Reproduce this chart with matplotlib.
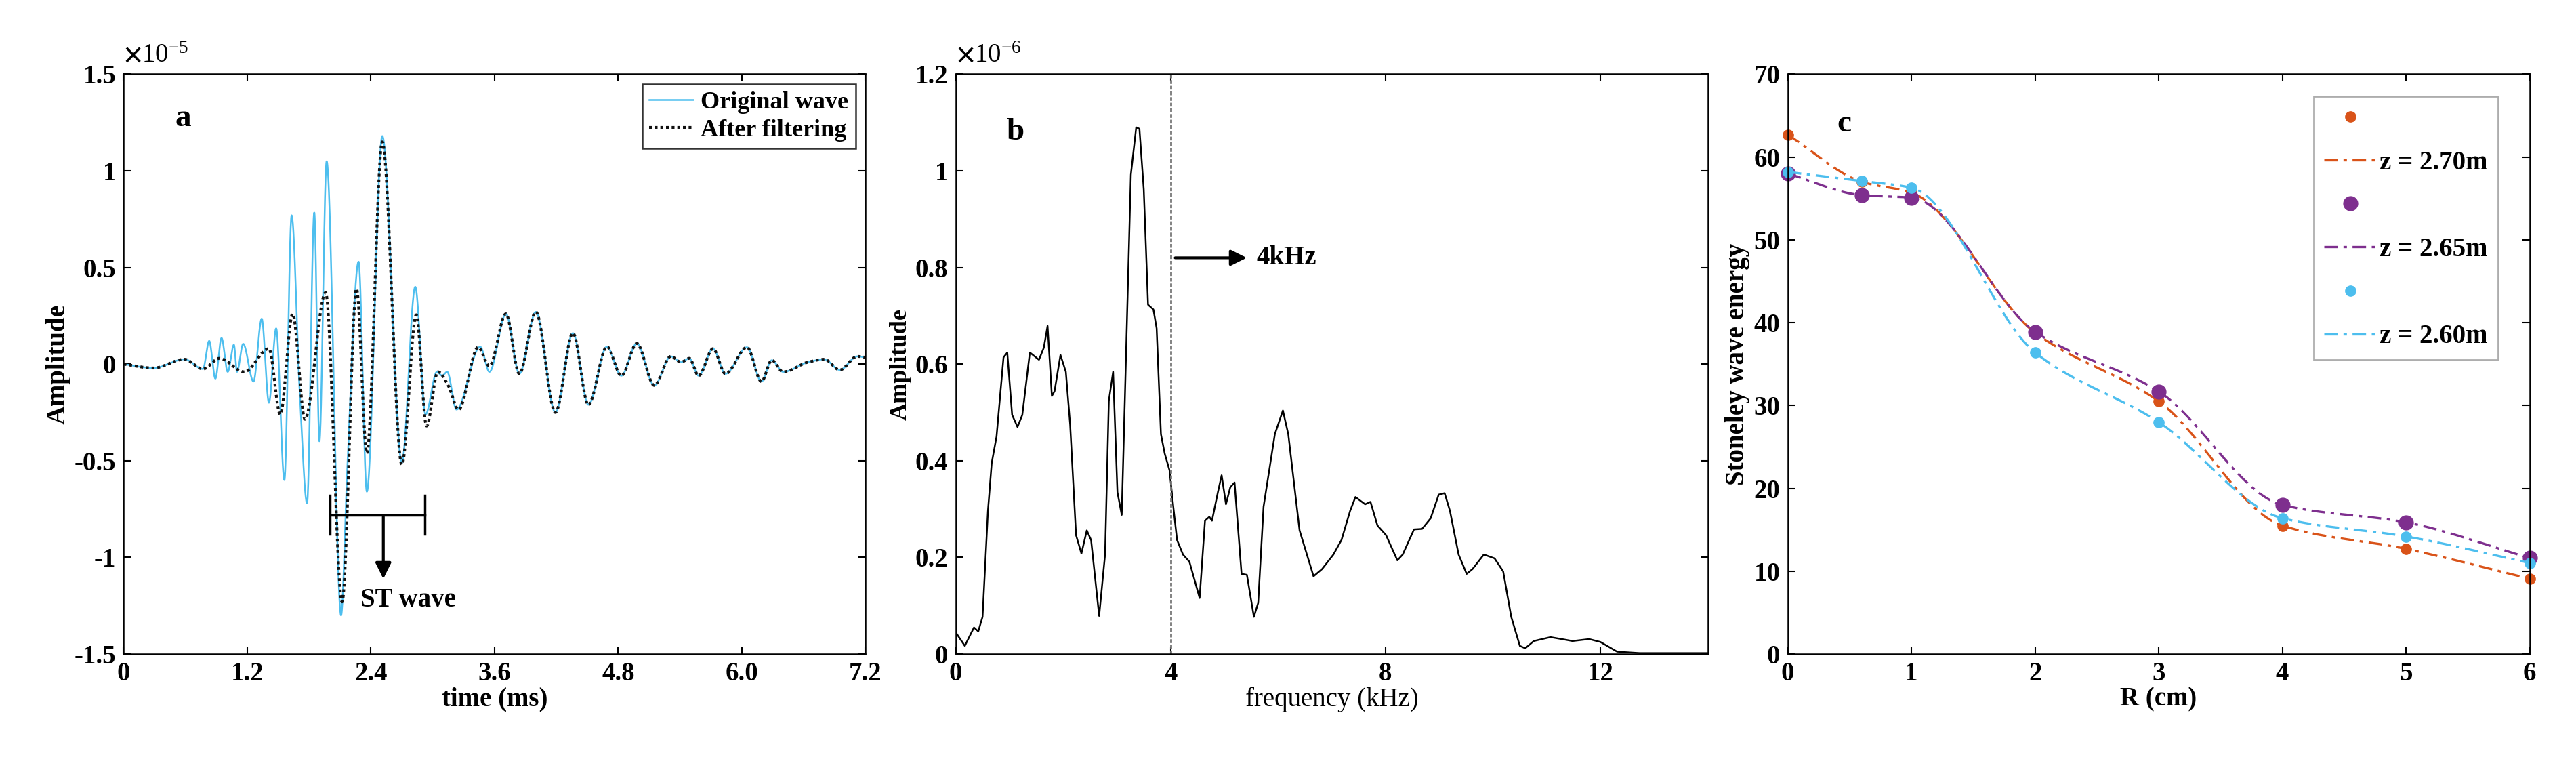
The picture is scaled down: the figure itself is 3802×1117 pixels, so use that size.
import numpy as np
import matplotlib
matplotlib.use("Agg")
import matplotlib.pyplot as plt
from matplotlib.lines import Line2D

plt.rcParams["font.family"] = ["Liberation Serif", "DejaVu Serif"]
plt.rcParams["font.weight"] = "bold"
plt.rcParams["axes.labelweight"] = "bold"
plt.rcParams["mathtext.fontset"] = "stix"

# ---- panel a: waveform (time in ms, amplitude in 1e-5)
t_filt = [0, 0.29, 0.59, 0.77, 0.93, 1.17, 1.41, 1.52, 1.64, 1.76, 1.96, 2.12, 2.26,
          2.36, 2.51, 2.70, 2.84, 2.94, 3.05, 3.15, 3.25, 3.44, 3.55, 3.71, 3.84, 4.00,
          4.19, 4.36, 4.51, 4.69, 4.83, 4.98, 5.15, 5.31, 5.41, 5.49, 5.58, 5.72, 5.84,
          6.05, 6.19, 6.29, 6.40, 6.64, 6.80, 6.95, 7.12, 7.2]
a_filt = [0, -0.02, 0.025, -0.025, 0.03, -0.04, 0.08, -0.26, 0.26, -0.285, 0.37, -1.23, 0.39,
          -0.46, 1.15, -0.52, 0.255, -0.32, -0.04, -0.11, -0.235, 0.087, -0.01, 0.26, -0.05, 0.27,
          -0.25, 0.16, -0.21, 0.09, -0.06, 0.107, -0.11, 0.04, 0.01, 0.03, -0.06, 0.08, -0.05,
          0.087, -0.09, 0.02, -0.04, 0.01, 0.025, -0.03, 0.04, 0.035]
t_orig = [0, 0.29, 0.59, 0.77, 0.83, 0.89, 0.95, 1.01, 1.07, 1.10, 1.16, 1.26, 1.34, 1.41,
          1.48, 1.56, 1.63, 1.71, 1.78, 1.85, 1.90, 1.97, 2.11, 2.17, 2.28, 2.36, 2.51, 2.70,
          2.83, 2.93, 3.04, 3.09, 3.14, 3.23, 3.46, 3.55, 3.71, 3.84, 4.00,
          4.19, 4.36, 4.51, 4.69, 4.83, 4.98, 5.15, 5.31, 5.41, 5.49, 5.58, 5.72, 5.84,
          6.05, 6.19, 6.29, 6.40, 6.64, 6.80, 6.95, 7.12, 7.2]
a_orig = [0, -0.02, 0.025, -0.025, 0.12, -0.075, 0.135, -0.04, 0.10, -0.04, 0.105, -0.09, 0.235, -0.2,
          0.185, -0.6, 0.77, -0.16, -0.72, 0.785, -0.40, 1.05, -1.30, -0.545, 0.53, -0.66, 1.18, -0.51,
          0.40, -0.26, -0.04, -0.06, -0.04, -0.235, 0.09, -0.04, 0.26, -0.05, 0.27,
          -0.25, 0.16, -0.21, 0.09, -0.06, 0.107, -0.11, 0.04, 0.01, 0.03, -0.06, 0.08, -0.05,
          0.087, -0.09, 0.02, -0.04, 0.01, 0.025, -0.03, 0.04, 0.035]

# ---- panel b: spectrum (kHz, amplitude in 1e-6)
f_khz = [0, .17, .34, .42, .50, .60, .67, .76, .89, .96, 1.05, 1.15, 1.24, 1.38, 1.55, 1.64, 1.71,
         1.79, 1.84, 1.95, 2.05, 2.13, 2.24, 2.34, 2.44, 2.52, 2.67, 2.78, 2.85, 2.93, 3.01, 3.09,
         3.15, 3.26, 3.36, 3.42, 3.50, 3.58, 3.68, 3.74, 3.82, 3.89, 3.98, 4.05, 4.12, 4.23, 4.35,
         4.54, 4.64, 4.72, 4.77, 4.88, 4.95, 5.03, 5.11, 5.19, 5.32, 5.42, 5.55, 5.63, 5.73, 5.94,
         6.09, 6.19, 6.40, 6.66, 6.82, 7.03, 7.18, 7.34, 7.44, 7.62, 7.72, 7.85, 8.01, 8.22, 8.32,
         8.53, 8.68, 8.84, 8.99, 9.10, 9.20, 9.36, 9.51, 9.62, 9.83, 10.03, 10.19, 10.34, 10.50,
         10.60, 10.76, 11.07, 11.28, 11.48, 11.79, 12.0, 12.31, 12.73, 13.35, 14.0]
spec = [.045, .017, .055, .047, .077, .296, .395, .45, .614, .624, .495, .47, .495, .624, .609, .634, .679,
        .534, .544, .619, .584, .475, .246, .208, .256, .236, .079, .206, .524, .584, .335, .288,
        .534, .992, 1.09, 1.087, .962, .723, .713, .674, .455, .415, .38, .305, .236, .206, .191,
        .116, .276, .284, .276, .335, .370, .31, .345, .355, .166, .164, .077, .106, .305, .455,
        .504, .455, .256, .161, .176, .206, .236, .296, .325, .31, .315, .266, .246, .194, .206,
        .258, .259, .281, .33, .333, .296, .206, .166, .176, .206, .198, .171, .077, .017,
        .012, .027, .035, .031, .027, .031, .025, .005, .002, .002, .002]

# ---- panel c: Stoneley wave energy
r_cm = [0, 0.6, 1, 2, 3, 4, 5, 6]
e_270 = [62.7, 57.0, 55.7, 38.8, 30.5, 15.5, 12.7, 9.1]
e_265 = [58.0, 55.4, 55.1, 38.9, 31.7, 18.0, 15.9, 11.6]
e_260 = [58.2, 57.1, 56.3, 36.4, 28.0, 16.4, 14.2, 11.0]


def pchip(x, y, xn):
    # shape-preserving cubic, like MATLAB's smooth lines
    x = np.asarray(x, float); y = np.asarray(y, float)
    h = np.diff(x); d = np.diff(y) / h
    m = np.zeros_like(y)
    for k in range(1, len(x) - 1):
        if d[k - 1] * d[k] > 0:
            w1 = 2 * h[k] + h[k - 1]; w2 = h[k] + 2 * h[k - 1]
            m[k] = (w1 + w2) / (w1 / d[k - 1] + w2 / d[k])
    m[0] = d[0]; m[-1] = d[-1]
    idx = np.clip(np.searchsorted(x, xn) - 1, 0, len(h) - 1)
    s = (xn - x[idx]) / h[idx]
    h00 = 2 * s**3 - 3 * s**2 + 1; h10 = s**3 - 2 * s**2 + s
    h01 = -2 * s**3 + 3 * s**2; h11 = s**3 - s**2
    return h00 * y[idx] + h10 * h[idx] * m[idx] + h01 * y[idx + 1] + h11 * h[idx] * m[idx + 1]


FS = 28


def style(ax):
    ax.tick_params(direction="in", top=True, right=True, length=8, width=1.5, labelsize=FS, pad=8)
    for s in ax.spines.values():
        s.set_linewidth(1.8)
    for lab in ax.get_xticklabels() + ax.get_yticklabels():
        lab.set_fontweight("bold")


fig = plt.figure(figsize=(38.02, 11.17), dpi=100)
ax1 = fig.add_axes([0.048, 0.136, 0.288, 0.766])
ax2 = fig.add_axes([0.371, 0.136, 0.292, 0.766])
ax3 = fig.add_axes([0.694, 0.136, 0.288, 0.766])

# a
tt = np.linspace(0, 7.2, 3000)
ax1.plot(tt, pchip(t_orig, a_orig, tt), color="#4DBEEE", lw=1.8, label="Original wave")
ax1.plot(tt, pchip(t_filt, a_filt, tt), color="#111111", lw=3, ls=(0, (1, 1)), label="After filtering")
ax1.set_xlim(0, 7.2)
ax1.set_ylim(-1.5, 1.5)
ax1.set_xticks([0, 1.2, 2.4, 3.6, 4.8, 6.0, 7.2])
ax1.set_xticklabels(["0", "1.2", "2.4", "3.6", "4.8", "6.0", "7.2"])
ax1.set_yticks([-1.5, -1, -0.5, 0, 0.5, 1, 1.5])
ax1.set_yticklabels(["-1.5", "-1", "-0.5", "0", "0.5", "1", "1.5"])
ax1.set_xlabel("time (ms)", fontsize=FS, labelpad=0)
ax1.set_ylabel("Amplitude", fontsize=FS)
ax1.text(0.0, 1.01, r"$\times\mathregular{10^{-5}}$", transform=ax1.transAxes, fontsize=FS,
         fontweight="normal", va="bottom")
ax1.text(0.5, 1.27, "a", fontsize=34, fontweight="bold", va="center")
ax1.plot([2.0, 2.92], [-0.78, -0.78], color="black", lw=2.5)
ax1.plot([2.0, 2.0], [-0.68, -0.88], color="black", lw=2.5)
ax1.plot([2.92, 2.92], [-0.68, -0.88], color="black", lw=2.5)
ax1.annotate("", xy=(2.52, -1.12), xytext=(2.52, -0.78),
             arrowprops=dict(arrowstyle="-|>", color="black", lw=3, mutation_scale=35))
ax1.text(2.3, -1.22, "ST wave", fontsize=FS, fontweight="bold", va="center")
leg = ax1.legend(loc="upper right", fontsize=FS - 2, frameon=True, fancybox=False,
                 edgecolor="black", handlelength=1.8, handletextpad=0.3, borderpad=0.3,
                 borderaxespad=0.4, labelspacing=0.2)
leg.get_frame().set_linewidth(1.8)
style(ax1)

# b
ax2.plot(f_khz, spec, color="black", lw=1.8)
ax2.axvline(4, color="#777777", lw=2, ls=(0, (2, 1)))
ax2.set_xlim(0, 14)
ax2.set_ylim(0, 1.2)
ax2.set_xticks([0, 4, 8, 12])
ax2.set_yticks([0, 0.2, 0.4, 0.6, 0.8, 1.0, 1.2])
ax2.set_yticklabels(["0", "0.2", "0.4", "0.6", "0.8", "1", "1.2"])
ax2.set_xlabel("frequency (kHz)", fontsize=FS, fontweight="normal", labelpad=0)
ax2.set_ylabel("Amplitude", fontsize=FS - 2)
ax2.text(0.0, 1.01, r"$\times\mathregular{10^{-6}}$", transform=ax2.transAxes, fontsize=FS,
         fontweight="normal", va="bottom")
ax2.text(0.95, 1.08, "b", fontsize=34, fontweight="bold", va="center")
ax2.annotate("", xy=(5.45, 0.82), xytext=(4.05, 0.82),
             arrowprops=dict(arrowstyle="-|>", color="black", lw=3, mutation_scale=35))
ax2.text(5.6, 0.82, "4kHz", fontsize=FS, fontweight="bold", va="center")
style(ax2)

# c
series = [(e_270, "#D95319", "z = 2.70m", 11), (e_265, "#7E2F8E", "z = 2.65m", 15),
          (e_260, "#4DBEEE", "z = 2.60m", 11)]
xs = np.linspace(0, 6, 400)
dashdot = (0, (6, 2.5, 1.5, 2.5))
handles = []
for e, c, lab, ms in series:
    ax3.plot(xs, pchip(r_cm, e, xs), color=c, lw=2.4, ls=dashdot)
    ax3.plot(r_cm, e, "o", color=c, ms=ms, ls="none", clip_on=False)
    handles.append(Line2D([], [], marker="o", color=c, ms=ms, ls="none"))
    handles.append(Line2D([], [], color=c, lw=2.4, ls=dashdot))
labels = [" ", series[0][2], " ", series[1][2], " ", series[2][2]]
ax3.set_xlim(0, 6)
ax3.set_ylim(0, 70)
ax3.set_xticks(range(7))
ax3.set_yticks(range(0, 71, 10))
ax3.set_xlabel("R (cm)", fontsize=FS, labelpad=0)
ax3.set_ylabel("Stoneley wave energy", fontsize=FS)
ax3.text(0.4, 64, "c", fontsize=34, fontweight="bold", va="center")
leg3 = ax3.legend(handles, labels, loc="upper right", fontsize=FS, frameon=True, fancybox=False,
                  edgecolor="#999999", handlelength=2.0, handletextpad=0.1, borderpad=0.4,
                  bbox_to_anchor=(0.975, 0.985), labelspacing=0.7)
leg3.get_frame().set_linewidth(2)
style(ax3)

fig.savefig("out.png", dpi=100)
